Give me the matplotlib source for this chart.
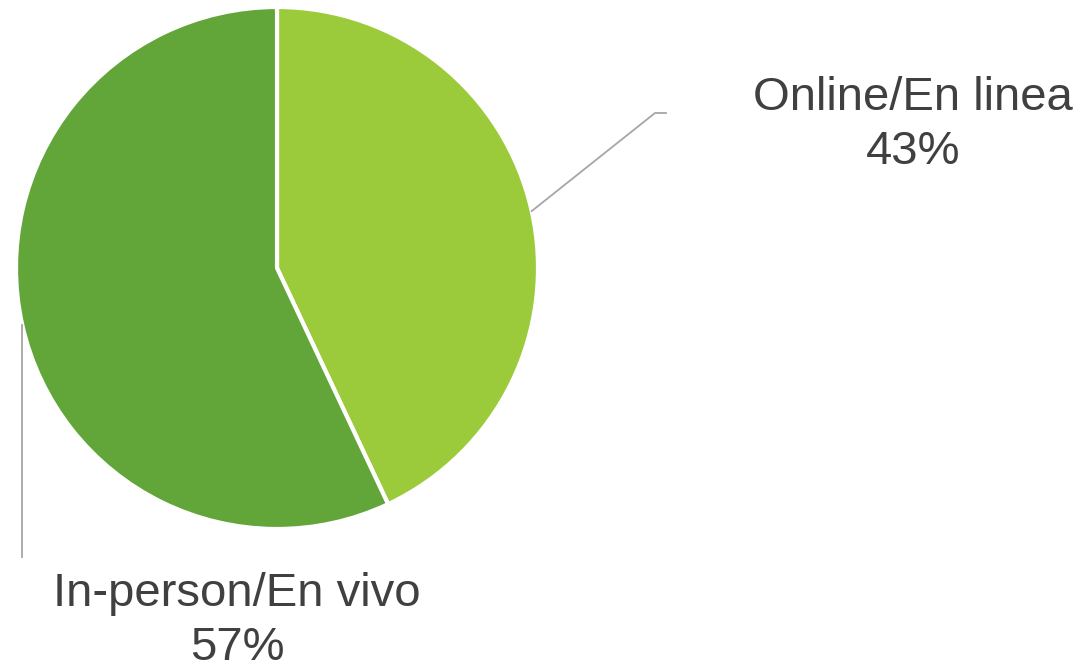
import numpy as np
import matplotlib
matplotlib.use("Agg")
import matplotlib.pyplot as plt

plt.rcParams['font.family'] = ['Liberation Sans', 'DejaVu Sans']

labels = ['Online/En linea', 'In-person/En vivo']
shares = [43, 57]
colors = ['#9BCB3B', '#62A539']

W, H = 1089, 661
fig = plt.figure(figsize=(W / 100, H / 100), dpi=100)
ax = fig.add_axes([0, 0, 1, 1])

cx, cy, r = 277, H - 268, 261
wedges, _ = ax.pie(shares, colors=colors, startangle=90, counterclock=False,
                   center=(cx, cy), radius=r, frame=True,
                   wedgeprops=dict(edgecolor='white', linewidth=3))
ax.set_xlim(0, W)
ax.set_ylim(0, H)
ax.set_aspect('equal')
ax.axis('off')

# leader lines start at the wedge mid-angle on the rim
mids = [np.deg2rad((w.theta1 + w.theta2) / 2) for w in wedges]
p0 = (cx + r * np.cos(mids[0]), cy + r * np.sin(mids[0]))
ax.plot([p0[0], 655, 666], [p0[1], H - 113, H - 113], color='#A6A6A6', lw=1.3)
p1 = (cx + r * np.cos(mids[1]), cy + r * np.sin(mids[1]))
ax.plot([p1[0], p1[0]], [p1[1], H - 557], color='#A6A6A6', lw=1.3)

ax.text(913, H - 125, f'{labels[0]}\n{shares[0]}%', ha='center', va='center',
        fontsize=34, color='#404040', linespacing=1.27)
ax.text(237, H - 621, f'{labels[1]}\n{shares[1]}%', ha='center', va='center',
        fontsize=34, color='#404040', linespacing=1.27)

fig.savefig('out.png', dpi=100)
